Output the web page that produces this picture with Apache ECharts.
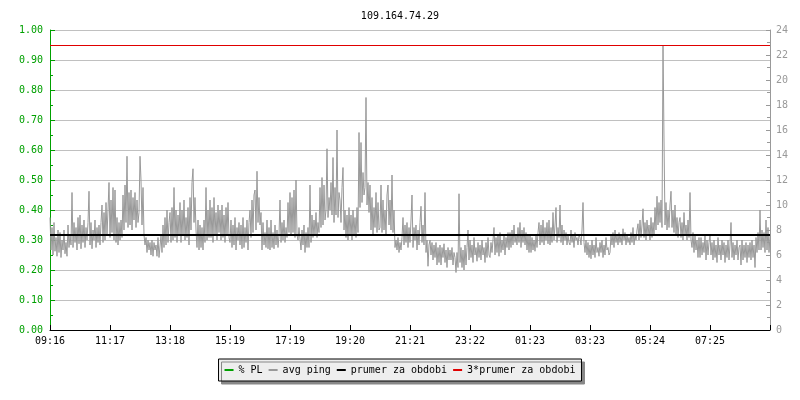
<!DOCTYPE html>
<html>
<head>
<meta charset="utf-8">
<script src="https://cdn.jsdelivr.net/npm/echarts@6/dist/echarts.min.js"></script>
<style>html,body{margin:0;padding:0;background:#fff}#c{width:800px;height:400px}</style>
</head>
<body>
<div id="c"></div>
<script>
const titleText = '109.164.74.29';
const tickLabels = ['09:16','11:17','13:18','15:19','17:19','19:20','21:21','23:22','01:23','03:23','05:24','07:25'];
const legendNames = ['% PL','avg ping','prumer za obdobi','3*prumer za obdobi'];
const meanPing = 7.6;
const tripleMeanPing = 22.8;
const pingValues = [
9.0,6.4,8.2,6.0,8.6,6.3,7.4,5.9,8.0,6.2,
7.8,5.8,7.2,6.4,8.0,6.1,7.0,5.9,8.4,6.6,
7.6,6.8,11.0,6.6,8.6,7.0,8.2,6.4,9.0,6.9,
9.2,6.5,8.4,7.0,8.8,6.6,8.2,7.2,8.6,11.1,
6.8,8.6,6.5,8.0,7.2,8.8,6.6,8.2,7.0,8.4,
6.8,8.6,10.0,7.0,9.4,7.2,10.2,7.6,9.6,11.8,
7.4,10.4,7.8,11.4,7.2,11.2,7.0,9.0,6.8,8.6,
7.2,8.8,7.4,10.8,8.0,11.6,8.6,13.9,8.2,11.0,
8.4,11.2,8.0,10.6,8.8,11.0,8.2,10.4,8.6,9.4,
13.9,12.0,8.4,11.4,7.6,6.8,7.4,6.2,7.2,6.4,
7.0,6.0,7.2,5.9,7.0,6.4,6.8,5.9,7.4,5.8,
5.8,7.6,6.2,8.4,6.6,9.0,6.8,9.6,7.0,8.6,
9.4,7.0,9.8,7.2,11.4,7.4,9.6,7.0,9.2,7.6,
10.2,7.0,9.6,7.6,10.4,7.2,9.0,7.4,9.8,6.8,
10.6,8.0,11.8,12.9,8.6,10.6,8.0,6.6,8.8,6.4,
8.4,6.6,8.2,6.4,8.8,7.0,11.4,7.2,9.6,7.4,
10.4,7.4,9.8,7.0,10.6,7.6,9.4,7.2,10.0,7.8,
9.6,7.2,10.0,7.4,9.2,7.0,9.8,7.6,10.2,7.4,
7.0,8.8,6.6,8.4,6.8,9.0,6.4,8.2,7.2,8.6,
6.8,8.4,6.5,9.0,6.6,8.2,7.0,8.8,6.4,8.6,
9.6,7.4,10.4,7.8,10.8,11.2,8.0,12.7,8.6,10.6,
8.4,9.4,6.4,8.6,6.8,7.8,6.6,8.8,6.5,8.2,
6.4,8.8,6.6,7.8,6.5,8.4,6.8,8.0,6.6,7.6,
10.4,7.0,8.6,7.2,8.8,7.0,8.2,7.4,10.2,7.8,
11.0,7.6,10.6,7.8,11.2,7.4,12.0,7.6,7.2,8.2,
8.2,6.4,8.0,6.8,8.4,6.2,7.8,6.6,8.2,6.6,
11.6,7.0,9.2,7.4,8.8,7.6,9.4,7.4,8.6,7.8,
11.4,8.2,12.2,8.4,11.6,8.8,9.6,14.5,9.0,10.6,
9.6,11.8,9.2,13.8,8.6,11.4,9.2,16.0,9.0,11.0,
10.4,8.6,11.4,13.0,8.0,9.6,7.4,9.2,7.2,9.8,
7.6,9.2,7.2,9.6,7.6,9.0,7.4,9.8,7.8,15.8,
9.8,15.0,10.2,12.6,10.8,11.4,18.6,10.0,11.8,9.4,
11.6,8.0,10.6,7.6,9.8,8.2,11.0,7.8,10.2,8.0,
8.2,11.6,7.8,10.4,8.0,9.6,7.6,10.8,11.6,8.4,
10.4,8.0,12.4,7.8,9.6,6.6,7.2,6.4,7.4,6.2,
7.0,6.4,7.4,9.0,6.8,8.4,7.0,8.6,6.6,8.2,
7.0,8.8,10.8,6.6,8.2,7.2,8.4,6.4,8.0,6.8,
8.6,9.9,7.0,8.4,6.8,11.0,6.2,7.2,5.1,6.8,
7.2,6.0,7.0,5.6,6.8,5.8,7.0,5.2,6.6,5.4,
6.8,5.2,6.6,5.8,6.9,5.4,6.4,5.0,6.6,5.6,
6.4,5.6,6.6,5.2,6.2,5.8,4.6,6.2,5.0,10.9,
5.4,6.6,5.0,6.4,4.8,6.8,5.2,6.6,8.0,5.6,
7.2,5.8,6.8,5.4,7.4,6.0,6.6,5.5,7.0,5.8,
6.8,5.6,7.2,6.0,6.6,5.4,7.0,5.8,7.4,6.0,
5.8,7.0,6.2,7.2,8.2,6.0,7.4,6.2,7.6,5.9,
7.8,6.2,7.2,6.4,7.6,6.0,7.4,6.6,7.8,6.4,
7.8,6.6,8.0,6.8,8.4,7.0,7.6,6.8,8.2,7.0,
8.6,6.6,8.0,7.0,8.2,6.8,7.8,6.4,7.6,6.2,
7.6,6.2,7.4,6.4,7.2,6.3,7.6,6.6,7.8,8.6,
6.8,8.4,7.0,8.8,6.8,8.2,7.2,8.6,6.9,8.8,
6.8,8.2,7.0,9.4,7.2,8.4,9.8,7.0,8.2,7.4,
10.0,7.0,8.4,6.8,8.0,7.2,7.8,6.8,7.6,7.0,
6.8,8.0,7.0,7.6,6.6,7.8,7.2,7.4,6.8,7.6,
7.4,6.8,8.0,10.2,7.0,6.2,7.2,6.0,7.0,5.8,
6.8,5.7,7.2,6.0,6.8,5.8,7.4,6.2,6.6,5.9,
7.0,6.2,7.2,5.8,6.8,6.0,7.4,6.4,6.6,6.0,
6.2,7.6,6.8,7.8,6.6,8.0,7.0,7.6,6.8,7.8,
7.0,7.6,6.8,8.1,7.2,7.8,6.8,7.6,7.0,7.4,
6.8,7.8,7.0,8.2,6.8,7.6,7.2,8.0,8.5,7.2,
8.8,7.4,8.4,9.7,7.4,8.6,7.2,8.8,7.6,8.4,
7.2,9.0,7.4,8.6,7.6,9.8,8.0,10.7,8.4,10.2,
8.6,10.4,8.2,22.8,15.2,8.4,10.2,8.0,9.6,8.2,
10.0,11.1,8.2,9.6,7.8,10.0,7.6,9.0,7.4,8.6,
9.0,7.4,8.6,7.2,9.4,7.6,8.4,7.2,8.8,7.4,
11.0,7.2,6.6,7.8,6.2,7.6,6.4,7.2,5.8,7.4,
5.8,7.4,6.0,7.0,6.2,7.6,5.6,7.2,6.0,7.0,
7.6,6.0,7.0,5.6,7.2,5.8,6.8,5.4,7.4,6.0,
6.8,5.6,7.2,6.0,7.0,5.4,6.8,5.8,7.2,5.6,
6.8,8.6,5.8,7.0,5.6,6.8,6.0,7.2,5.6,6.6,
6.8,5.2,7.2,5.6,6.8,5.8,7.0,5.4,6.8,5.8,
7.0,5.6,7.2,5.8,6.8,5.0,7.4,6.2,7.8,6.4,
9.6,6.4,8.0,6.6,7.8,6.2,8.8,6.4,8.2,6.2,
7.6
];
const categories = pingValues.map((_, i) => String(i));
const FONT = 'DejaVu Sans Mono';
const GREEN = '#00a000';
const GREY = '#999999';
const RED = '#e00000';
const STEP = 60;
const lastIdx = categories.length - 1;

const chart = echarts.init(document.getElementById('c'), null, {renderer: 'canvas'});
chart.setOption({
  animation: false,
  backgroundColor: '#ffffff',
  title: {
    text: titleText, left: 'center', top: 6,
    textStyle: {fontFamily: FONT, fontSize: 10, fontWeight: 'normal', color: '#000'}
  },
  legend: {
    data: legendNames, left: 'center', top: 359, selectedMode: false,
    icon: 'rect', itemWidth: 9, itemHeight: 2, itemGap: 6,
    padding: [6, 6],
    backgroundColor: '#eeeeee', borderColor: '#000', borderWidth: 1,
    shadowColor: '#888', shadowBlur: 0, shadowOffsetX: 3, shadowOffsetY: 3,
    textStyle: {fontFamily: FONT, fontSize: 10, color: '#000'}
  },
  grid: {left: 50, right: 30, top: 30, bottom: 70},
  xAxis: {
    type: 'category', data: categories, boundaryGap: false, z: 5,
    axisLine: {lineStyle: {color: '#000', width: 1}},
    axisTick: {inside: true, length: 5, interval: STEP - 1, lineStyle: {color: '#000'}},
    axisLabel: {
      interval: STEP - 1, margin: 6, color: '#000', fontFamily: FONT, fontSize: 10,
      formatter: (v, i) => tickLabels[i / STEP] || ''
    },
    splitLine: {show: false}
  },
  yAxis: [{
    type: 'value', position: 'left', min: 0, max: 1, interval: 0.1,
    axisLine: {show: true, lineStyle: {color: GREEN, width: 1}},
    axisTick: {show: true, inside: true, length: 5, lineStyle: {color: GREEN}},
    minorTick: {show: true, splitNumber: 2, length: 3, lineStyle: {color: GREEN}},
    axisLabel: {color: GREEN, fontFamily: FONT, fontSize: 10, margin: 7, formatter: v => v.toFixed(2)},
    splitLine: {show: true, lineStyle: {color: '#c0c0c0', width: 1}}
  }, {
    type: 'value', position: 'right', min: 0, max: 24, interval: 2,
    axisLine: {show: true, lineStyle: {color: GREY, width: 1}},
    axisTick: {show: true, inside: true, length: 4, lineStyle: {color: GREY}},
    minorTick: {show: true, splitNumber: 2, length: 3, lineStyle: {color: GREY}},
    axisLabel: {color: GREY, fontFamily: FONT, fontSize: 10, margin: 6},
    splitLine: {show: false}
  }],
  series: [{
    name: legendNames[0], type: 'line', yAxisIndex: 0, data: [],
    color: GREEN, symbol: 'none'
  }, {
    name: legendNames[1], type: 'line', yAxisIndex: 1, data: pingValues,
    color: GREY, symbol: 'none', lineStyle: {width: 1, color: GREY}, z: 2
  }, {
    name: legendNames[2], type: 'line', yAxisIndex: 1, data: [],
    color: '#000', symbol: 'none', z: 3,
    markLine: {silent: true, symbol: ['none', 'none'], label: {show: false},
      emphasis: {disabled: true},
      lineStyle: {color: '#000', width: 2, type: 'solid', opacity: 1},
      data: [[{coord: [0, meanPing]}, {coord: [lastIdx, meanPing]}]]}
  }, {
    name: legendNames[3], type: 'line', yAxisIndex: 1, data: [],
    color: RED, symbol: 'none', z: 4,
    markLine: {silent: true, symbol: ['none', 'none'], label: {show: false},
      emphasis: {disabled: true},
      lineStyle: {color: RED, width: 1, type: 'solid', opacity: 1},
      data: [[{coord: [0, tripleMeanPing], lineStyle: {color: RED}}, {coord: [lastIdx, tripleMeanPing]}]]}
  }]
});
</script>
</body>
</html>
